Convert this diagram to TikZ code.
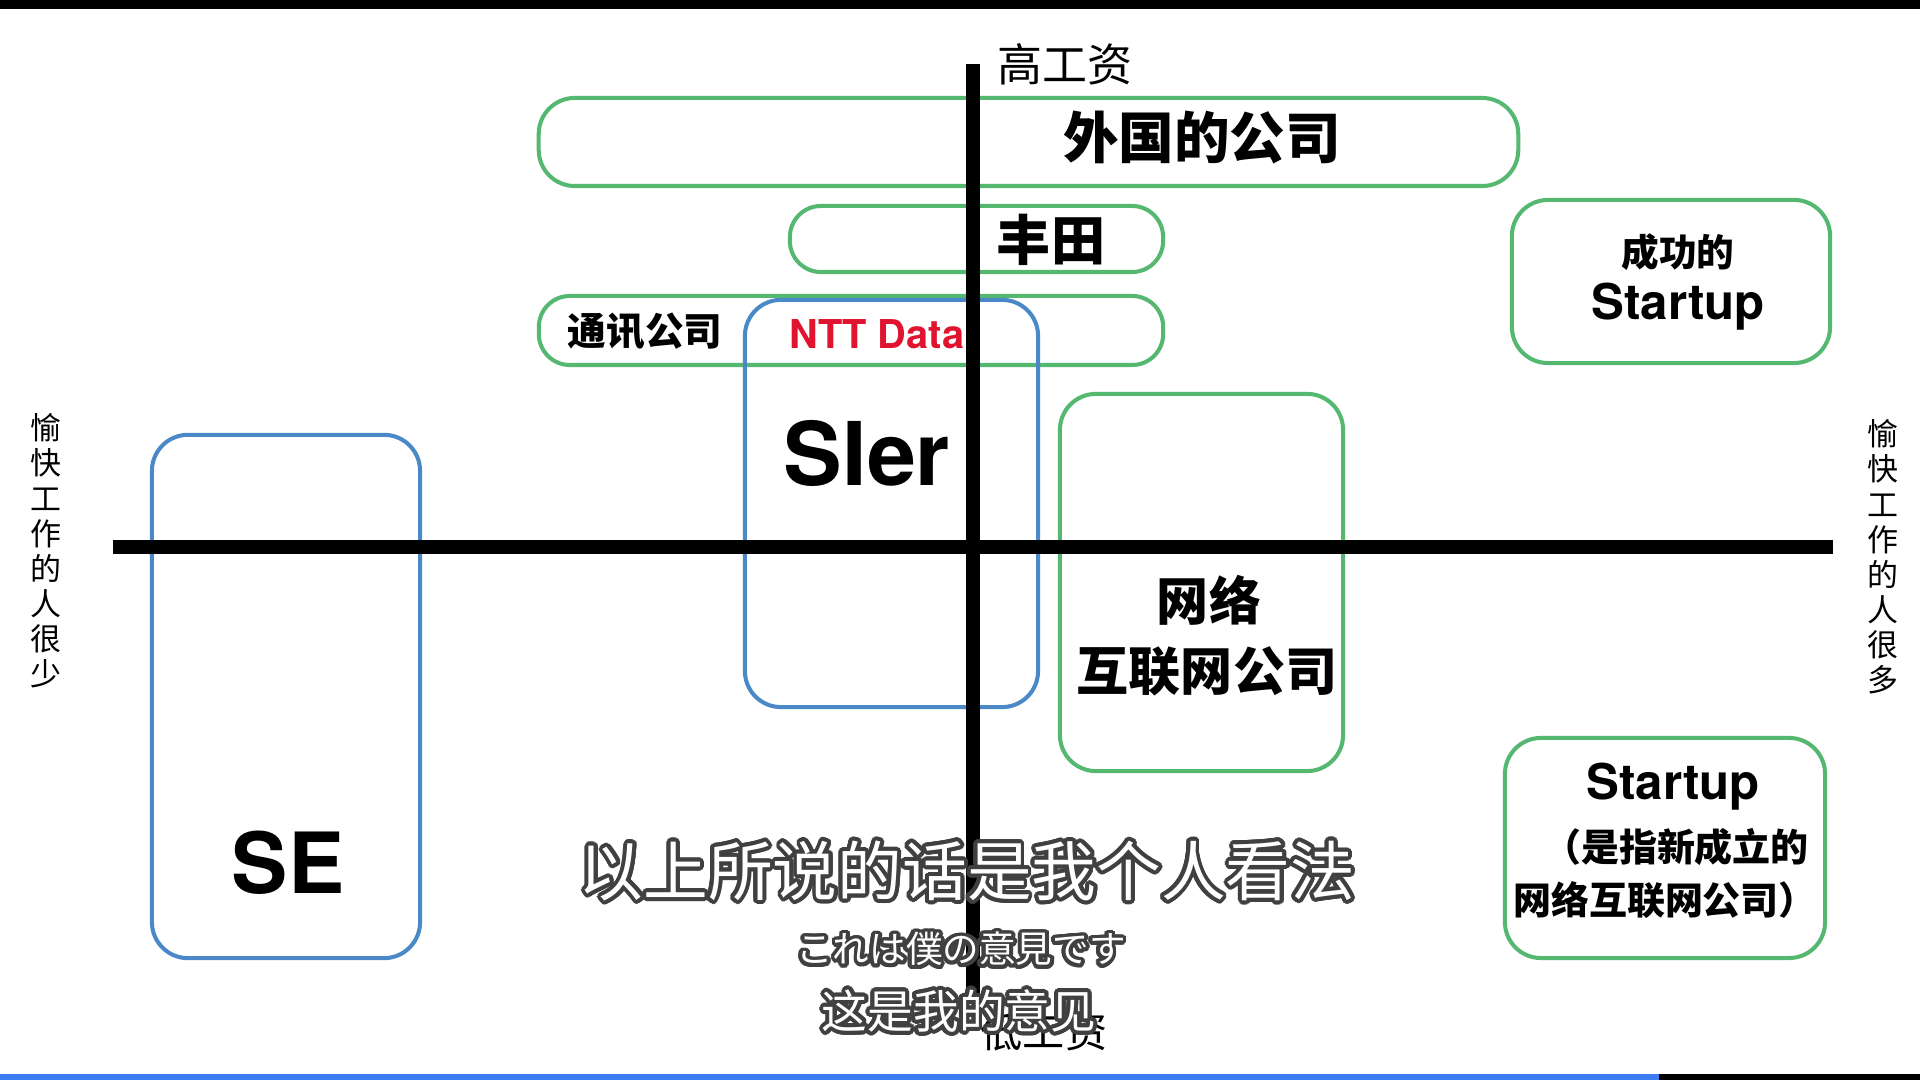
\documentclass[tikz,border=0pt]{standalone}
\usepackage{fontspec}
\usepackage{contour}
\usepackage{tikz}
\usetikzlibrary{positioning}
\newfontfamily\cjk{Noto Sans CJK SC}
\newfontfamily\jpn{Noto Sans CJK JP}
\newfontfamily\helv{TeX Gyre Heros}
\definecolor{boxgreen}{HTML}{55B870}
\definecolor{boxblue}{HTML}{4A88C7}
\definecolor{nttred}{HTML}{E0142E}
\definecolor{barblue}{HTML}{3D7CF2}
\contourlength{1.1pt}
\contournumber{24}

\tikzset{
  gbox/.style={draw=boxgreen, line width=1.15pt, rounded corners=0.36cm, inner sep=0pt},
  bbox/.style={draw=boxblue, line width=1.15pt, rounded corners=0.36cm, inner sep=0pt},
  axisline/.style={line width=4pt},
  lbl/.style={inner sep=0pt, font=\cjk\bfseries},
  side/.style={inner sep=0pt, align=center, font=\cjk\fontsize{8.8}{10}\selectfont},
  subline/.style={inner sep=0pt, text=white},
}

\begin{document}
\begin{tikzpicture}[x=0.01cm, y=-0.01cm]
  \useasboundingbox (0,0) rectangle (1920,1080);
  \fill[white] (0,0) rectangle (1920,1080);
  % frame bars of the video
  \fill[black] (0,0) rectangle (1920,9);
  \fill[black] (0,1074) rectangle (1920,1080);
  \fill[barblue] (0,1074) rectangle (1659,1080);

  % green boxes
  \node[gbox, minimum width=9.79cm, minimum height=0.88cm] (foreign) at (1028.5,142) {};
  \node[gbox, rounded corners=0.31cm, minimum width=3.73cm, minimum height=0.66cm] (toyota) at (976.5,239) {};
  \node[gbox, rounded corners=0.31cm, minimum width=6.24cm, minimum height=0.69cm] (telecom) at (851,330.5) {};
  \node[gbox, minimum width=2.83cm, minimum height=3.77cm] (net) at (1201.5,582.5) {};
  \node[gbox, minimum width=3.18cm, minimum height=1.63cm] (bigstart) at (1671,281.5) {};
  \node[gbox, minimum width=3.20cm, minimum height=2.20cm] (start) at (1665,848) {};
  % blue boxes
  \node[bbox, minimum width=2.93cm, minimum height=4.07cm] (sier) at (891.5,503.5) {};
  \node[bbox, minimum width=2.68cm, minimum height=5.23cm] (se) at (286,696.5) {};

  % axes
  \coordinate (top) at (973,64);
  \coordinate (bottom) at (973,993);
  \coordinate (left) at (113,547);
  \coordinate (right) at (1833,547);
  \draw[axisline] (top) -- (bottom);
  \draw[axisline] (left) -- (right);

  % axis labels
  \node[inner sep=0pt, font=\cjk\fontsize{12.8}{13}\selectfont] (high) at (1065,64) {高工资};
  \node[inner sep=0pt, font=\cjk\fontsize{12}{13}\selectfont] (low) at (1044,1032) {低工资};
  \node[side] (few) at (46,551) {愉\\快\\工\\作\\的\\人\\很\\少};
  \node[side] (many) at (1883,557) {愉\\快\\工\\作\\的\\人\\很\\多};

  % box texts
  \node[lbl, font=\cjk\bfseries\fontsize{15.8}{16}\selectfont] (foreigntxt) at (1202,138) {外国的公司};
  \node[lbl, font=\cjk\bfseries\fontsize{15.4}{16}\selectfont] (toyotatxt) at (1051,240) {丰田};
  \node[lbl, font=\cjk\bfseries\fontsize{11}{12}\selectfont] (telecomtxt) at (645,331) {通讯公司};
  \node[inner sep=0pt, text=nttred, font=\helv\bfseries\fontsize{11.3}{12}\selectfont] (ntt) at (877,334) {NTT Data};
  \node[inner sep=0pt, font=\helv\bfseries\fontsize{25}{26}\selectfont] (siertxt) at (867,453) {SIer};
  \node[inner sep=0pt, font=\helv\bfseries\fontsize{24}{26}\selectfont] (setxt) at (288,863) {SE};
  \node[lbl, font=\cjk\bfseries\fontsize{14.8}{16}\selectfont] (nettxt1) at (1209,600) {网络};
  \node[lbl, font=\cjk\bfseries\fontsize{14.8}{16}\selectfont] (nettxt2) at (1207,671) {互联网公司};
  \node[lbl, font=\cjk\bfseries\fontsize{10.7}{12}\selectfont] (bigtxt1) at (1678,252) {成功的};
  \node[inner sep=0pt, font=\helv\bfseries\fontsize{14}{15}\selectfont] (bigtxt2) at (1678,307) {Startup};
  \node[inner sep=0pt, font=\helv\bfseries\fontsize{14}{15}\selectfont] (starttxt1) at (1673,787) {Startup};
  \node[lbl, font=\cjk\bfseries\fontsize{10.8}{12}\selectfont] (starttxt2) at (1676,847) {（是指新成立的};
  \node[lbl, font=\cjk\bfseries\fontsize{10.8}{12}\selectfont] (starttxt3) at (1665,900) {网络互联网公司）};

  % subtitles
  \node[subline, font=\cjk\fontsize{18.4}{19}\selectfont] (sub1) at (967,873) {\contour{black!75}{以上所说的话是我个人看法}};
  \node[subline, font=\jpn\fontsize{10.4}{11}\selectfont] (sub2) at (961,951) {\contour{black!75}{これは僕の意見です}};
  \node[subline, font=\cjk\fontsize{13}{14}\selectfont] (sub3) at (959,1013) {\contour{black!75}{这是我的意见}};
\end{tikzpicture}
\end{document}
